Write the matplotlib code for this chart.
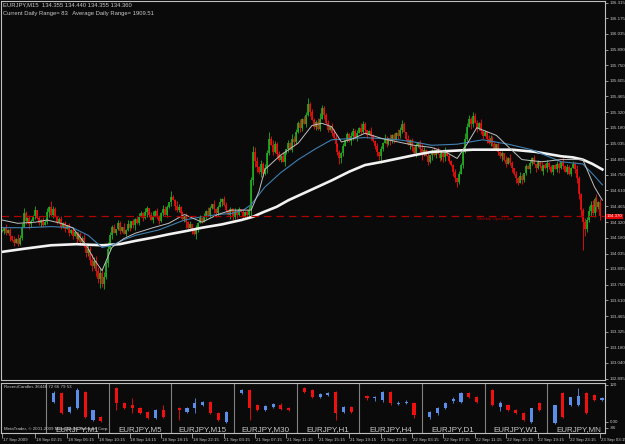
import matplotlib
matplotlib.use('Agg')
import matplotlib.pyplot as plt
from matplotlib.transforms import blended_transform_factory
import numpy as np

plt.rcParams['font.family'] = ['Liberation Sans', 'DejaVu Sans']

# EURJPY M15 closes, pips above 133.00
closes = [124, 127, 122, 125, 119, 116, 113, 117, 112, 118, 128, 140, 133, 136, 130, 133,
          138, 143, 136, 131, 134, 129, 132, 141, 146, 139, 144, 137, 132, 135, 128, 131,
          126, 129, 122, 125, 119, 123, 117, 121, 114, 118,
          110, 104, 108, 98, 92, 97, 88, 80, 86, 76,
          82, 95, 108, 120, 128,
          122, 126, 131, 124, 128, 121, 125, 130, 127, 133, 129, 135, 131, 137, 140,
          136, 141, 145, 139, 134, 138, 142, 137, 133, 140, 144, 139, 146, 150, 155, 152,
          147, 143, 146, 140, 135, 138, 132, 127, 130, 124, 121, 126, 131, 136, 133,
          138, 142, 139, 145, 149, 144, 140, 146, 150, 153, 148, 143, 139, 144, 141, 137,
          142, 139, 144, 141, 137, 141, 139, 143,
          170, 196,
          188, 182, 178, 185, 176, 181,
          195, 208, 202, 196, 203,
          194, 189, 192, 187, 195,
          199, 204, 198, 208, 205,
          214, 222, 218, 226, 221, 230, 240,
          232, 225, 219, 223, 217,
          226, 236, 230,
          222, 216, 220, 213, 209,
          203, 196, 190, 195, 201,
          207, 212, 206, 210, 215,
          209, 213, 218, 214, 221, 216, 211, 215, 210,
          206, 201, 196, 192, 199, 204, 208,
          203, 209, 206, 211, 207, 213, 210,
          216, 221, 214,
          208, 203, 207, 200, 195, 201, 205,
          199, 194, 198, 192, 187, 193, 197,
          193, 198, 194, 190, 195, 191, 196, 192, 188, 184,
          178, 172, 169, 176, 184,
          196, 208, 219, 226, 221, 229,
          222, 217, 222, 215,
          210, 214, 208, 204, 209, 203, 199, 203,
          196, 192, 195, 189, 185, 190, 186, 181,
          176, 172, 168, 174, 170,
          177, 183, 180, 186, 190, 185, 181, 187, 183, 179,
          184, 181, 186, 182, 178, 184, 180, 185, 181, 187,
          183, 178, 182, 176, 181, 185, 180,
          172, 158, 143, 132, 126,
          134, 142, 148, 140, 153, 146, 150, 138]

# upper / lower shadow length per bar, in pips (base 36 digits)
up_wick = ("2131203142" "3521321402" "1324153202" "3120213102" "2132425343"
           "4352631203" "2031420213" "3214202413" "2143205214" "3120213023"
           "1302142031" "2413202143" "1203124354" "3142436253" "2314203142"
           "3241325132" "2453213024" "3121302143" "2314320142" "1302142031"
           "2143420312" "1302421302" "3120214021" "1203245342" "3231402132"
           "1302120314" "2031420213" "1302140231" "2013204132" "1324212435"
           "342513")
dn_wick = ("1320413021" "2031420312" "3102413021" "2130312041" "3214354253"
           "8352413021" "3102130241" "2031420312" "3120213042" "2413520314"
           "3021302143" "2031204132" "3102142546" "4253142031" "3120413024"
           "2143021302" "3120412031" "2354302143" "1302142031" "2436203142"
           "3021302143" "2413520314" "1302143021" "4352031204" "2031320413"
           "2103241302" "3142031203" "2031204132" "1302413021" "203456p732"
           "413524")

# moving averages (bar index, pips above 133.00)
ma_slow_bars = [0, 12, 25, 38, 51, 60, 68, 77, 85, 94, 102, 112, 122, 128, 133, 140, 146, 157,
                168, 177, 185, 194, 202, 210, 219, 230, 240, 250, 260, 272, 285, 291, 296, 301, 306]
ma_slow = [105, 108, 111, 112, 111, 112, 115, 118, 121, 124, 127, 130, 134, 137, 141, 146, 152, 161,
           170, 178, 184, 187, 190, 193, 196, 197, 198, 198, 198, 196, 192, 191, 189, 185, 180]
ma_mid_bars = [0, 12, 25, 36, 44, 51, 56, 62, 68, 80, 93, 102, 110, 117, 123, 127, 134, 142, 151,
               160, 168, 176, 185, 194, 202, 210, 219, 232, 245, 258, 270, 285, 296, 301, 306]
ma_mid = [127, 127, 128, 127, 120, 109, 111, 116, 120, 125, 134, 137, 139, 140, 143, 148, 164, 177, 189,
          199, 207, 208, 209, 208, 207, 205, 202, 203, 207, 203, 198, 187, 185, 176, 166]
ma_fast_bars = [0, 8, 17, 23, 30, 36, 43, 47, 51, 56, 62, 68, 77, 85, 93, 102, 110, 117, 127, 131,
                134, 142, 151, 158, 163, 168, 173, 179, 185, 194, 202, 210, 219, 226, 232, 237,
                242, 252, 259, 265, 275, 285, 296, 302, 306]
ma_fast = [134, 131, 132, 134, 131, 127, 111, 98, 88, 109, 117, 122, 127, 131, 139, 132, 139, 143, 143, 160,
           180, 193, 204, 220, 222, 219, 205, 208, 213, 208, 205, 202, 200, 196, 190, 203,
           218, 211, 199, 189, 187, 189, 189, 164, 152]

weekly_open = 134.376

price_ticks = ['136.315', '136.175', '136.035', '135.890', '135.750', '135.605', '135.465',
               '135.320', '135.180', '135.035', '134.895', '134.750', '134.610', '134.465',
               '134.320', '134.180', '134.035', '133.895', '133.750', '133.610', '133.465',
               '133.325', '133.180', '133.040', '132.895']

time_bars = [0, 17, 33, 49, 65, 81, 97, 113, 129, 145, 161, 177, 193, 209, 225, 241, 257, 273, 289, 305]
time_labels = ['17 Sep 2009', '18 Sep 02:15', '18 Sep 06:15', '18 Sep 10:15', '18 Sep 14:15',
               '18 Sep 18:15', '18 Sep 22:15', '21 Sep 03:15', '21 Sep 07:15', '21 Sep 11:15',
               '21 Sep 15:15', '21 Sep 19:15', '21 Sep 23:15', '22 Sep 03:15', '22 Sep 07:15',
               '22 Sep 11:15', '22 Sep 15:15', '22 Sep 19:15', '22 Sep 23:15', '23 Sep 03:15']

# RecentCandles indicator: (open, high, low, close) per timeframe
tf_names = ['M1', 'M5', 'M15', 'M30', 'H1', 'H4', 'D1', 'W1', 'MN']
tf_candles = [
    [(65, 100, 62, 94), (94, 97, 26, 29), (32, 52, 29, 49), (45, 110, 42, 104),
     (97, 100, 13, 16), (6, 39, 3, 39), (16, 19, 0, 3)],
    [(110, 113, 39, 62), (62, 65, 42, 45), (55, 78, 29, 45), (45, 49, 26, 29),
     (32, 36, 10, 13), (13, 42, 10, 39), (39, 55, 13, 16)],
    [(45, 49, 6, 39), (32, 49, 29, 45), (45, 78, 29, 62), (55, 68, 52, 65),
     (65, 68, 26, 29), (29, 32, 3, 6), (0, 36, -3, 32)],
    [(94, 107, 91, 104), (104, 107, 6, 45), (55, 58, 36, 39), (39, 55, 36, 52),
     (49, 62, 45, 58), (55, 62, 39, 42), (45, 49, 36, 39)],
    [(110, 113, 94, 97), (104, 107, 78, 81), (81, 94, 78, 91), (88, 97, 84, 94),
     (97, 100, 6, 29), (32, 52, 29, 49), (49, 52, 29, 32)],
    [(84, 88, 71, 78), (78, 84, 68, 78), (71, 100, 65, 97), (97, 100, 55, 62),
     (58, 68, 55, 62), (62, 71, 58, 65), (62, 65, 13, 23)],
    [(16, 36, 10, 32), (29, 49, 23, 45), (45, 65, 42, 62), (68, 81, 62, 74),
     (65, 97, 62, 94), (94, 97, 78, 81), (81, 84, 62, 65)],
    [(104, 107, 52, 55), (49, 68, 36, 62), (55, 58, 36, 39), (39, 42, 26, 29),
     (29, 32, 3, 6), (0, 45, -3, 45), (62, 65, 36, 39)],
    [(-3, 55, -6, 55), (94, 97, 13, 16), (55, 81, 52, 81), (55, 110, 52, 84),
     (94, 97, 26, 29), (88, 91, 68, 71), (71, 81, 68, 78)],
]

BG = '#0a0a0a'
FG = '#c8c8c8'
GREEN = '#20b020'
RED = '#f01010'
BLUE = '#5a8ee8'
TINY = 3.2

W, H = 625, 444


def rect(x0, y0, x1, y1):
    return [x0 / W, 1 - y1 / H, (x1 - x0) / W, (y1 - y0) / H]


fig = plt.figure(figsize=(6.25, 4.44), dpi=100, facecolor=BG)

# ---------------- main price window ----------------
ax = fig.add_axes(rect(1, 1, 605, 380), facecolor=BG)
base = 133.0
c = base + np.array(closes) / 100.0
o = np.r_[c[0], c[:-1]]
uw = np.array([int(ch, 36) for ch in up_wick]) / 100.0
dw = np.array([int(ch, 36) for ch in dn_wick]) / 100.0
hi = np.maximum(o, c) + uw
lo = np.minimum(o, c) - dw
x = np.arange(len(c))
cols = np.where(c >= o, GREEN, RED)
ax.vlines(x, lo, hi, colors=cols, lw=0.6)
btm = np.minimum(o, c)
top = np.maximum(np.maximum(o, c), btm + 0.006)
ax.vlines(x, btm, top, colors=cols, lw=1.2)

ax.plot(ma_slow_bars, base + np.array(ma_slow) / 100.0, color='#f2f2f2', lw=1.9)
ax.plot(ma_mid_bars, base + np.array(ma_mid) / 100.0, color='#3f7fb0', lw=0.8)
ax.plot(ma_fast_bars, base + np.array(ma_fast) / 100.0, color='#c0c0c0', lw=0.7)

ax.axhline(weekly_open, color='#b00000', lw=0.9, dashes=(6, 4))
ax.text(242, weekly_open - 0.01, 'Weekly Open Line', color='#b00000', fontsize=3.2, va='top')

ax.set_xlim(-0.5, -0.5 + 604 / 1.962)
ax.set_ylim(132.884, 136.333)
ax.set_xticks([])
ax.yaxis.tick_right()
ax.set_yticks([float(t) for t in price_ticks])
ax.set_yticklabels(price_ticks)
ax.tick_params(axis='y', colors=FG, labelsize=TINY, length=2.5, width=0.5, pad=0.8)
for s in ax.spines.values():
    s.set_color('#c0c0c0')
    s.set_linewidth(0.8)

bt = blended_transform_factory(ax.transAxes, ax.transData)
ax.text(1.003, 134.372, '134.370', transform=bt, ha='left', va='center', fontsize=TINY,
        color='white', bbox=dict(boxstyle='square,pad=0.2', fc='#e00000', ec='none'), clip_on=False)

fig.text(3 / W, 1 - 5 / H, 'EURJPY,M15  134.355 134.440 134.355 134.360', color=FG, fontsize=4.2, va='center')
fig.text(3 / W, 1 - 13 / H, 'Current Daily Range= 83   Average Daily Range= 1909.51', color=FG, fontsize=4.2, va='center')

# ---------------- RecentCandles window ----------------
sub = fig.add_axes(rect(1, 383, 605, 433), facecolor=BG)
sub.set_xlim(-5.75, -5.75 + 604 / 7.83)
sub.set_ylim(-36, 126)
for j, (name, cl) in enumerate(zip(tf_names, tf_candles)):
    sub.axvline(8 * j, color='#808080', lw=0.8)
    for k, (co, ch, cl_, cc) in enumerate(cl):
        col = BLUE if cc >= co else RED
        xx = 8 * j + 1 + k
        sub.vlines(xx, cl_, ch, color=col, lw=0.6)
        sub.bar(xx, max(abs(cc - co), 2), bottom=min(co, cc), width=0.4, color=col, lw=0)
    sub.text(8 * j + 4, -25, 'EURJPY,' + name, ha='center', va='center', fontsize=5.8, color=FG)
sub.text(0.005, 0.97, 'RecentCandles 36448 72 66 79 53', transform=sub.transAxes, fontsize=TINY,
         color=FG, va='top')
sub.text(0.005, 0.04, 'MetaTrader, \u00a9 2001-2009 MetaQuotes Software Corp.', transform=sub.transAxes,
         fontsize=TINY, color=FG, va='bottom')
sub.set_xticks([])
sub.yaxis.tick_right()
sub.set_yticks([120, 0, -19])
sub.set_yticklabels(['120', '0.00', '-86'])
sub.tick_params(axis='y', colors=FG, labelsize=TINY, length=2.5, width=0.5, pad=0.8)
for s in sub.spines.values():
    s.set_color('#c0c0c0')
    s.set_linewidth(0.8)

# ---------------- time axis ----------------
tax = fig.add_axes(rect(1, 433, 605, 444), facecolor=BG)
tax.set_xlim(ax.get_xlim())
tax.set_ylim(0, 1)
tax.vlines(time_bars, 0.55, 1.0, color=FG, lw=0.5)
for b, t in zip(time_bars, time_labels):
    tax.text(b + 0.4, 0.4, t, ha='left', va='center', fontsize=TINY, color=FG, clip_on=False)
tax.axis('off')

fig.savefig('out.png', dpi=100, facecolor=BG)
